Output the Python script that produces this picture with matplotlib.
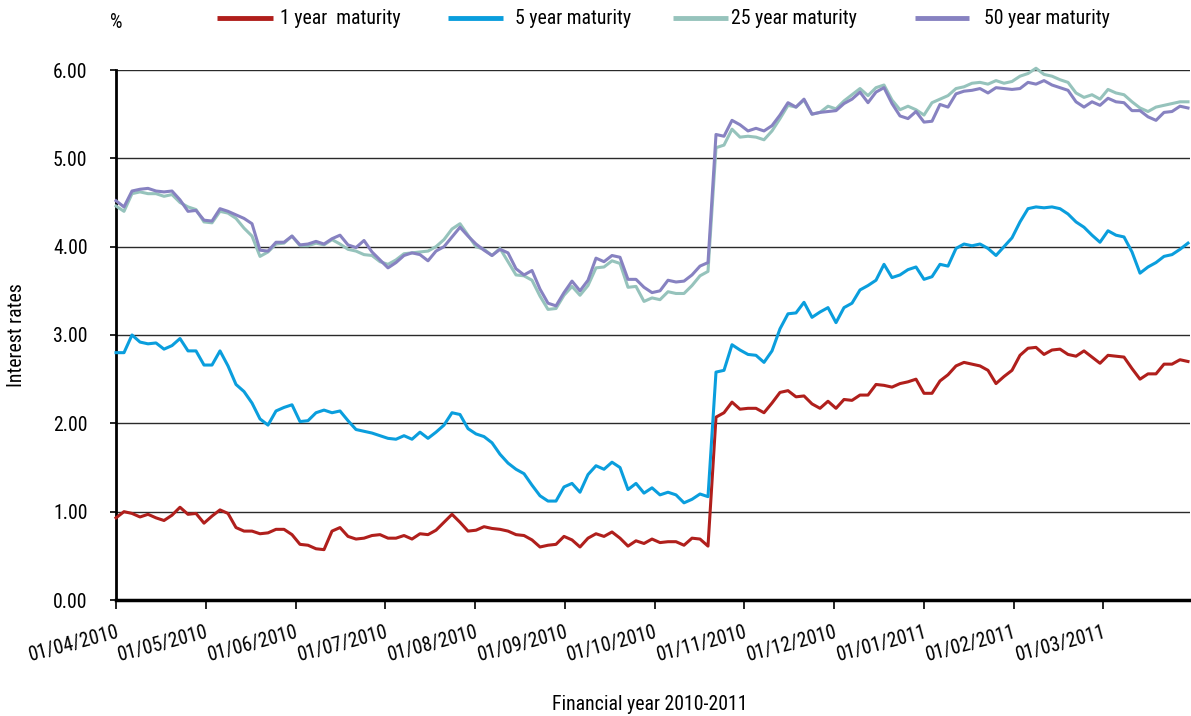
import numpy as np
import matplotlib
matplotlib.use("Agg")
import matplotlib.pyplot as plt
from matplotlib.lines import Line2D
from matplotlib import font_manager as fm

# ---------------- data ----------------
month_labels = ["01/04/2010", "01/05/2010", "01/06/2010", "01/07/2010", "01/08/2010",
                "01/09/2010", "01/10/2010", "01/11/2010", "01/12/2010", "01/01/2011",
                "01/02/2011", "01/03/2011"]
series_labels = ["1 year  maturity", "5 year maturity", "25 year maturity", "50 year maturity"]
y_ticks = [0, 1, 2, 3, 4, 5, 6]

rate_1y = [0.93, 1.00, 0.98, 0.94, 0.97, 0.93, 0.90, 0.96, 1.05, 0.97, 0.98, 0.87, 0.95, 1.02, 0.98, 0.82, 0.78, 0.78, 0.75, 0.76, 0.80, 0.80, 0.74, 0.63,
           0.62, 0.58, 0.57, 0.78, 0.82, 0.72, 0.69, 0.70, 0.73, 0.74, 0.70, 0.70, 0.73, 0.69, 0.75, 0.74, 0.79, 0.88, 0.97, 0.88, 0.78, 0.79, 0.83,
           0.81, 0.80, 0.78, 0.74, 0.73, 0.68, 0.60, 0.62, 0.63, 0.72, 0.68, 0.60, 0.70, 0.75, 0.72, 0.77, 0.70, 0.61, 0.67, 0.64, 0.69, 0.65,
           0.66, 0.66, 0.62, 0.70, 0.69, 0.61, 2.07, 2.12, 2.24, 2.16, 2.17, 2.17, 2.12, 2.23, 2.35, 2.37, 2.30, 2.31, 2.22, 2.17, 2.25, 2.17, 2.27,
           2.26, 2.32, 2.32, 2.44, 2.43, 2.41, 2.45, 2.47, 2.50, 2.34, 2.34, 2.48, 2.55, 2.65, 2.69, 2.67, 2.65, 2.60, 2.45, 2.53, 2.60,
           2.77, 2.85, 2.86, 2.78, 2.83, 2.84, 2.78, 2.76, 2.82, 2.75, 2.68, 2.77, 2.76, 2.75, 2.62, 2.50, 2.56, 2.56, 2.67, 2.67, 2.72, 2.70]

rate_5y = [2.80, 2.80, 3.00, 2.92, 2.90, 2.91, 2.84, 2.88, 2.96, 2.82, 2.82, 2.66, 2.66, 2.82, 2.65, 2.44, 2.36, 2.23, 2.05, 1.98, 2.14, 2.18, 2.21, 2.02,
           2.03, 2.12, 2.15, 2.12, 2.14, 2.03, 1.93, 1.91, 1.89, 1.86, 1.83, 1.82, 1.86, 1.82, 1.90, 1.83, 1.90, 1.98, 2.12, 2.10, 1.94, 1.88, 1.85,
           1.78, 1.65, 1.55, 1.48, 1.43, 1.30, 1.18, 1.12, 1.12, 1.28, 1.32, 1.22, 1.42, 1.52, 1.48, 1.56, 1.50, 1.25, 1.32, 1.21, 1.27, 1.19,
           1.22, 1.19, 1.10, 1.14, 1.20, 1.17, 2.58, 2.60, 2.89, 2.83, 2.78, 2.77, 2.69, 2.82, 3.07, 3.24, 3.25, 3.37, 3.20, 3.26, 3.31, 3.14, 3.31,
           3.36, 3.51, 3.56, 3.62, 3.80, 3.65, 3.68, 3.74, 3.77, 3.63, 3.66, 3.80, 3.78, 3.98, 4.03, 4.01, 4.03, 3.98, 3.90, 4.00, 4.10,
           4.28, 4.43, 4.45, 4.44, 4.45, 4.43, 4.37, 4.28, 4.22, 4.13, 4.05, 4.18, 4.13, 4.11, 3.94, 3.70, 3.77, 3.82, 3.89, 3.91, 3.97, 4.04]

rate_25y = [4.46, 4.40, 4.60, 4.62, 4.60, 4.60, 4.57, 4.59, 4.50, 4.45, 4.42, 4.28, 4.27, 4.40, 4.38, 4.32, 4.21, 4.12, 3.89, 3.94, 4.03, 4.04, 4.12, 4.01,
            4.01, 4.04, 4.02, 4.08, 4.03, 3.97, 3.95, 3.91, 3.90, 3.83, 3.80, 3.85, 3.92, 3.93, 3.94, 3.95, 4.00, 4.08, 4.20, 4.26, 4.13, 4.00, 3.97,
            3.90, 3.98, 3.83, 3.68, 3.67, 3.62, 3.44, 3.29, 3.30, 3.45, 3.55, 3.45, 3.56, 3.76, 3.77, 3.84, 3.81, 3.54, 3.55, 3.38, 3.42, 3.40,
            3.49, 3.47, 3.47, 3.56, 3.67, 3.72, 5.12, 5.15, 5.33, 5.24, 5.25, 5.24, 5.21, 5.31, 5.45, 5.60, 5.58, 5.66, 5.50, 5.52, 5.59, 5.56, 5.65,
            5.72, 5.79, 5.71, 5.80, 5.83, 5.66, 5.55, 5.59, 5.55, 5.49, 5.63, 5.67, 5.71, 5.79, 5.81, 5.85, 5.86, 5.84, 5.88, 5.85, 5.87,
            5.93, 5.96, 6.02, 5.95, 5.93, 5.89, 5.86, 5.74, 5.69, 5.72, 5.67, 5.78, 5.74, 5.72, 5.64, 5.57, 5.53, 5.58, 5.60, 5.62, 5.64, 5.64]

rate_50y = [4.52, 4.45, 4.63, 4.65, 4.66, 4.63, 4.62, 4.63, 4.53, 4.40, 4.41, 4.30, 4.29, 4.43, 4.40, 4.36, 4.32, 4.26, 3.96, 3.95, 4.05, 4.05, 4.12, 4.02,
            4.03, 4.06, 4.03, 4.09, 4.13, 4.02, 3.99, 4.07, 3.94, 3.85, 3.76, 3.82, 3.90, 3.93, 3.91, 3.84, 3.95, 4.00, 4.11, 4.22, 4.12, 4.03, 3.96,
            3.90, 3.97, 3.93, 3.75, 3.68, 3.73, 3.52, 3.36, 3.33, 3.48, 3.61, 3.50, 3.62, 3.87, 3.83, 3.90, 3.88, 3.63, 3.63, 3.54, 3.48, 3.50,
            3.62, 3.60, 3.61, 3.68, 3.78, 3.82, 5.27, 5.25, 5.43, 5.38, 5.31, 5.34, 5.31, 5.37, 5.49, 5.63, 5.58, 5.67, 5.50, 5.52, 5.53, 5.54, 5.62,
            5.67, 5.75, 5.63, 5.75, 5.80, 5.62, 5.48, 5.45, 5.53, 5.41, 5.42, 5.61, 5.58, 5.73, 5.76, 5.77, 5.79, 5.74, 5.80, 5.79, 5.78,
            5.79, 5.86, 5.84, 5.88, 5.83, 5.80, 5.77, 5.64, 5.58, 5.64, 5.60, 5.68, 5.64, 5.63, 5.54, 5.54, 5.47, 5.43, 5.52, 5.53, 5.59, 5.57]

# ---------------- font: prefer a narrow / condensed face ----------------
def pick_font():
    prefs = [("liberationsansnarrow-regular", 14.5),
             ("robotocondensed-regular", 14.2),
             ("dejavusanscondensed.ttf", 12.5),
             ("opensans_condensed-regular", 13.0),
             ("opensanscondensed-regular", 13.0)]
    files = [f.fname for f in fm.fontManager.ttflist]
    for key, size in prefs:
        for fn in files:
            if key in fn.lower().replace(" ", ""):
                return fm.FontProperties(fname=fn), size
    for fn in fm.findSystemFonts():
        low = fn.lower()
        for key, size in prefs:
            if key in low:
                return fm.FontProperties(fname=fn), size
    return fm.FontProperties(family="Liberation Sans"), 12.0

FP, FS = pick_font()
FP.set_size(FS)

colors = ["#B01F1C", "#0A9EDD", "#96C3BC", "#8782C1"]

W, H = 1191, 716
fig = plt.figure(figsize=(W / 100, H / 100), dpi=100)
L, R, T, B = 116, 1190, 70, 600
ax = fig.add_axes([L / W, 1 - B / H, (R - L) / W, (B - T) / H])

samples_per_month = 89.77 / 8.0
n = len(rate_1y)
x = np.arange(n) / samples_per_month

all_series = [rate_1y, rate_5y, rate_25y, rate_50y]
for vals, c, lab in zip(all_series, colors, series_labels):
    ax.plot(x, vals, color=c, lw=2.2, label=lab, clip_on=False, zorder=3)

ax.set_xlim(0, (R - L) / 89.77)
ax.set_ylim(0, 6)

ax.set_yticks(y_ticks)
ax.set_yticklabels([f"{v:.2f}" for v in y_ticks], fontproperties=FP)
ax.yaxis.grid(True, color="#2a2a2a", lw=1.0)
ax.set_axisbelow(True)

ax.set_xticks(np.arange(len(month_labels)))
ax.set_xticklabels(month_labels, rotation=15, ha="right", rotation_mode="anchor", fontproperties=FP)

for s in ["top", "right"]:
    ax.spines[s].set_visible(False)
ax.spines["left"].set_linewidth(2.0)
ax.spines["bottom"].set_linewidth(2.5)
ax.tick_params(axis="y", length=4.5, width=1.2, pad=16, direction="out")
ax.tick_params(axis="x", length=6.5, width=1.2, pad=10, direction="out")

ax.set_ylabel("Interest rates", fontproperties=FP, labelpad=0)
ax.yaxis.set_label_coords(-(L - 17) / (R - L), 0.5)
ax.set_xlabel("Financial year 2010-2011", fontproperties=FP)
ax.xaxis.set_label_coords((650 - L) / (R - L), -(705 - B) / (B - T))
ax.xaxis.label.set_va("center")
ax.yaxis.label.set_va("center")

fig.text(110 / W, 1 - 23 / H, "%", fontproperties=FP, ha="left", va="center")

# legend drawn manually at top
handles_px = [(217, 273, 280), (448, 503, 515), (673, 728, 731), (915, 969, 984)]
ly = 1 - 18 / H
for (x0, x1, tx), c, lab in zip(handles_px, colors, series_labels):
    fig.add_artist(Line2D([x0 / W, x1 / W], [ly, ly], color=c, lw=3.5,
                          transform=fig.transFigure, solid_capstyle="butt"))
    fig.text(tx / W, ly, lab, fontproperties=FP, ha="left", va="center")

fig.savefig("out.png", dpi=100)
